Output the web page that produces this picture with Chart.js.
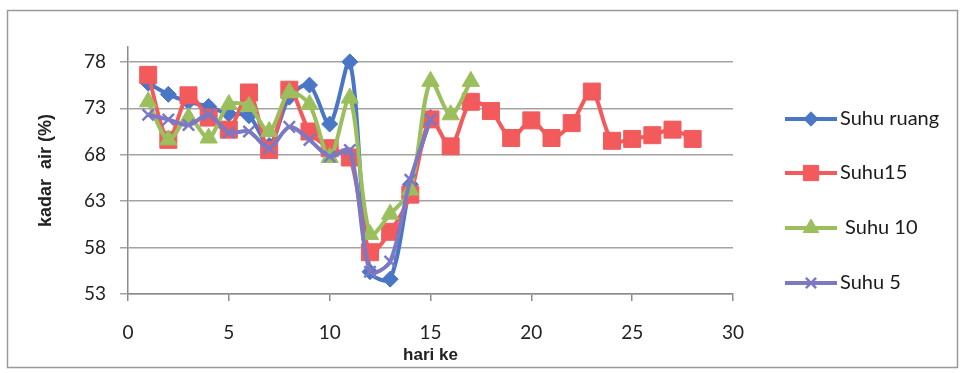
<!DOCTYPE html>
<html>
<head>
<meta charset="utf-8">
<script src="https://cdn.jsdelivr.net/npm/chart.js@4.4.1/dist/chart.umd.min.js"></script>
<style>
  html, body { margin: 0; padding: 0; background: #fff; }
  #wrap { width: 963px; height: 373px; }
</style>
</head>
<body>
<div id="wrap"><canvas id="kadarChart" width="963" height="373"></canvas></div>
<script>
// data
const days = [1, 2, 3, 4, 5, 6, 7, 8, 9, 10, 11, 12, 13, 14, 15, 16, 17, 18, 19, 20, 21, 22, 23, 24, 25, 26, 27, 28];
const suhuRuang = [75.7, 74.5, 73.7, 73.2, 72.4, 72.2, 69.0, 74.2, 75.5, 71.3, 78.0, 55.4, 54.6, 64.8, 72.0];
const suhu15 = [76.6, 69.6, 74.4, 72.0, 70.7, 74.7, 68.5, 75.0, 70.5, 68.7, 67.7, 57.5, 59.7, 63.7, 71.8,
                68.9, 73.7, 72.7, 69.8, 71.7, 69.8, 71.4, 74.8, 69.5, 69.7, 70.1, 70.7, 69.7];
const suhu10 = [73.7, 69.6, 72.0, 69.8, 73.4, 73.2, 70.5, 74.7, 73.4, 67.7, 74.1, 59.4, 61.6, 64.2, 75.9, 72.3, 75.9];
const suhu5 = [72.3, 71.8, 71.2, 72.3, 70.4, 70.5, 68.7, 71.0, 69.6, 67.8, 68.5, 55.4, 56.5, 65.3, 71.8];
const yTicks = [53, 58, 63, 68, 73, 78];
const xTicks = [0, 5, 10, 15, 20, 25, 30];

function toPoints(values) {
    return values.map((v, i) => ({ x: days[i], y: v }));
}

const series = [
    { label: 'Suhu ruang', data: suhuRuang, color: '#4a76c6', style: 'rectRot', radius: 8, order: 4 },
    { label: 'Suhu15', data: suhu15, color: '#f25a5c', style: 'rect', radius: 12, order: 3 },
    { label: ' Suhu 10', data: suhu10, color: '#9bbf5c', style: 'triangle', radius: 10, order: 2 },
    { label: 'Suhu 5', data: suhu5, color: '#7b78c4', style: 'crossRot', radius: 8, order: 1 }
];

// frame round the whole picture
const framePlugin = {
    id: 'frame',
    beforeDraw(chart) {
        const ctx = chart.ctx;
        ctx.save();
        ctx.fillStyle = '#fff';
        ctx.fillRect(0, 0, chart.width, chart.height);
        ctx.strokeStyle = '#9a9a9a';
        ctx.lineWidth = 1.5;
        ctx.strokeRect(7.5, 10.5, 950, 357);
        ctx.restore();
    }
};

// legend drawn as line + marker, like the spreadsheet one
const legendPlugin = {
    id: 'lineLegend',
    afterDraw(chart) {
        const ctx = chart.ctx;
        const rows = [119, 173, 228, 283];
        ctx.save();
        series.forEach((s, i) => {
            const y = rows[i];
            ctx.strokeStyle = s.color;
            ctx.fillStyle = s.color;
            ctx.lineWidth = 4;
            ctx.beginPath();
            ctx.moveTo(785, y);
            ctx.lineTo(837, y);
            ctx.stroke();
            ctx.lineWidth = s.style === 'crossRot' ? 2.5 : 1;
            Chart.helpers.drawPoint(ctx, { pointStyle: s.style, radius: s.radius * 0.9, rotation: 0, borderWidth: ctx.lineWidth }, 811, y);
            ctx.fillStyle = '#1a1a1a';
            ctx.font = '20px Lato';
            ctx.textBaseline = 'middle';
            ctx.textAlign = 'left';
            ctx.fillText(s.label, 840, y);
        });
        ctx.restore();
    }
};

const datasets = series.map(s => ({
    label: s.label,
    data: toPoints(s.data),
    borderColor: s.color,
    backgroundColor: s.color,
    borderWidth: 4,
    pointStyle: s.style,
    pointRadius: s.radius,
    pointBorderWidth: s.style === 'crossRot' ? 2.5 : 1,
    pointBackgroundColor: s.color,
    pointBorderColor: s.color,
    tension: 0.3,
    order: s.order
}));

new Chart(document.getElementById('kadarChart'), {
    type: 'line',
    data: { datasets: datasets },
    options: {
        responsive: false,
        animation: false,
        events: [],
        layout: { padding: { left: 8, right: 230, top: 47, bottom: 5 } },
        plugins: {
            legend: { display: false },
            tooltip: { enabled: false }
        },
        scales: {
            x: {
                type: 'linear',
                min: 0,
                max: 30,
                afterBuildTicks: scale => { scale.ticks = xTicks.map(v => ({ value: v })); },
                afterFit: scale => { scale.height = 74; },
                grid: { drawOnChartArea: false, tickLength: 7, color: '#8c8c8c', lineWidth: 1.5 },
                border: { color: '#8c8c8c', width: 1.5 },
                ticks: { color: '#222', font: { family: 'Lato', size: 19 }, padding: 20, maxRotation: 0 },
                title: {
                    display: true,
                    text: 'hari ke',
                    color: '#222',
                    font: { family: 'Liberation Sans', size: 17, weight: 'bold' },
                    padding: { top: 0, bottom: 2 }
                }
            },
            y: {
                type: 'linear',
                min: 53,
                max: 79.6,
                afterBuildTicks: scale => { scale.ticks = yTicks.map(v => ({ value: v })); },
                afterFit: scale => { scale.width = 120; },
                grid: { tickLength: 8, color: '#a3a3a3', lineWidth: 1.5 },
                border: { color: '#8c8c8c', width: 1.5 },
                ticks: { color: '#222', font: { family: 'Lato', size: 19 }, padding: 14 },
                title: {
                    display: true,
                    text: 'kadar  air (%)',
                    color: '#222',
                    font: { family: 'Liberation Sans', size: 18, weight: 'bold' },
                    padding: { top: 27, bottom: 0 }
                }
            }
        }
    },
    plugins: [framePlugin, legendPlugin]
});
</script>
</body>
</html>
